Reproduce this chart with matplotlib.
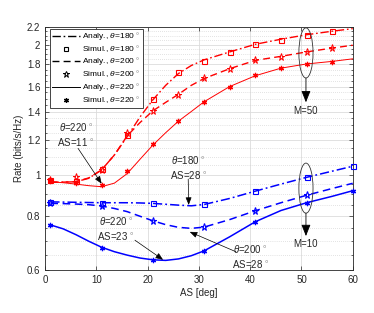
import numpy as np
import matplotlib
matplotlib.use("Agg")
import matplotlib.pyplot as plt
from matplotlib.lines import Line2D
from matplotlib.patches import Ellipse
from matplotlib.ticker import FixedLocator, NullFormatter

plt.rcParams['font.family'] = ['Liberation Sans', 'DejaVu Sans']
plt.rcParams['mathtext.fontset'] = 'custom'
plt.rcParams['mathtext.rm'] = 'Liberation Sans'
plt.rcParams['mathtext.it'] = 'Liberation Sans:italic'

# ---------------- data ----------------
as_ana = [1, 3.5, 6, 8.5, 11, 13.5, 16, 18.5, 21, 23.5, 26, 28.5, 31, 36, 41, 46, 51, 56, 60]
# M = 50 analytical
r180_ana = [0.960, 0.960, 0.962, 0.980, 1.025, 1.11, 1.225, 1.36, 1.49, 1.61, 1.715, 1.79, 1.845, 1.925, 2.005, 2.06, 2.11, 2.15, 2.18]
r200_ana = [0.960, 0.960, 0.963, 0.982, 1.025, 1.11, 1.23, 1.32, 1.405, 1.47, 1.535, 1.61, 1.67, 1.76, 1.84, 1.88, 1.925, 1.965, 1.995]
r220_ana = [0.962, 0.957, 0.950, 0.942, 0.937, 0.955, 1.005, 1.085, 1.17, 1.25, 1.33, 1.40, 1.475, 1.60, 1.695, 1.765, 1.805, 1.83, 1.855]
# M = 10 analytical
b180_ana = [0.864, 0.863, 0.862, 0.861, 0.860, 0.860, 0.860, 0.859, 0.857, 0.853, 0.849, 0.846, 0.852, 0.880, 0.915, 0.950, 0.985, 1.018, 1.045]
b200_ana = [0.857, 0.856, 0.854, 0.851, 0.845, 0.834, 0.820, 0.800, 0.781, 0.765, 0.754, 0.750, 0.755, 0.786, 0.824, 0.860, 0.895, 0.928, 0.954]
b220_ana = [0.764, 0.748, 0.725, 0.700, 0.678, 0.662, 0.650, 0.640, 0.634, 0.632, 0.637, 0.648, 0.665, 0.717, 0.777, 0.825, 0.860, 0.890, 0.917]

# M = 50 simulation
as_sim_r = [1, 6, 11, 16, 21, 26, 31, 36, 41, 46, 51, 56]
r180_sim = [0.970, 0.967, 1.029, 1.235, 1.50, 1.727, 1.838, 1.922, 2.006, 2.052, 2.11, 2.15]
r200_sim = [0.972, 0.989, 1.025, 1.246, 1.406, 1.532, 1.672, 1.758, 1.844, 1.874, 1.922, 1.964]
r220_sim = [0.966, 0.955, 0.944, 1.019, 1.177, 1.333, 1.476, 1.600, 1.699, 1.770, 1.806, 1.828]
# M = 10 simulation
as_sim_b = [1, 11, 21, 31, 41, 51, 60]
b180_sim = [0.865, 0.860, 0.860, 0.855, 0.915, 0.985, 1.048]
as_sim_b200 = [1, 11, 21, 31, 41, 51]
b200_sim = [0.857, 0.845, 0.781, 0.757, 0.824, 0.896]
b220_sim = [0.764, 0.677, 0.634, 0.665, 0.777, 0.860, 0.917]

yticks = [0.6, 0.8, 1, 1.2, 1.4, 1.6, 1.8, 2, 2.2]
ytick_labels = ['0.6', '0.8', '1', '1.2', '1.4', '1.6', '1.8', '2', '2.2']
xticks = [0, 10, 20, 30, 40, 50, 60]

# ---------------- figure ----------------
fig = plt.figure(figsize=(3.74, 3.13), dpi=100)
ax = fig.add_axes([0.121, 0.137, 0.822, 0.777])
ax.set_yscale('log')

RED = '#ff0000'
BLUE = '#0000ff'
asterisk = (6, 2, 0)
DASHDOT = (0, (6, 2, 1.2, 2))
DASHED = (0, (5, 3))

# analytical lines
ax.plot(as_ana, r180_ana, color=RED, ls=DASHDOT, lw=1.0)
ax.plot(as_ana, r200_ana, color=RED, ls=DASHED, lw=1.0)
ax.plot(as_ana, r220_ana, color=RED, ls='-', lw=0.7)
ax.plot(as_ana, b180_ana, color=BLUE, ls=DASHDOT, lw=1.1)
ax.plot(as_ana, b200_ana, color=BLUE, ls=DASHED, lw=1.1)
ax.plot(as_ana, b220_ana, color=BLUE, ls='-', lw=1.1)

# simulation markers
mk = dict(ls='none', clip_on=False, zorder=4)
ax.plot(as_sim_r, r180_sim, marker='s', ms=3.6, mfc='none', mec=RED, mew=0.8, **mk)
ax.plot(as_sim_r, r200_sim, marker='*', ms=5.2, mfc='none', mec=RED, mew=0.7, **mk)
ax.plot(as_sim_r, r220_sim, marker=asterisk, ms=3.8, mec=RED, mew=0.9, **mk)
ax.plot(as_sim_b, b180_sim, marker='s', ms=3.6, mfc='none', mec=BLUE, mew=0.8, **mk)
ax.plot(as_sim_b200, b200_sim, marker='*', ms=5.2, mfc='none', mec=BLUE, mew=0.8, **mk)
ax.plot(as_sim_b, b220_sim, marker=asterisk, ms=3.8, mec=BLUE, mew=0.9, **mk)

# axes styling
ax.set_xlim(0, 60)
ax.set_ylim(0.6, 2.2)
ax.set_xticks(xticks)
ax.yaxis.set_major_locator(FixedLocator(yticks))
ax.set_yticklabels(ytick_labels)
ax.yaxis.set_minor_locator(FixedLocator(np.arange(0.65, 2.2, 0.05)))
ax.yaxis.set_minor_formatter(NullFormatter())
ax.tick_params(which='both', direction='in', top=True, right=True, labelsize=7,
               colors='#262626', width=0.5)
ax.tick_params(which='major', length=3)
ax.tick_params(which='minor', length=1.5)
ax.grid(True, which='major', color='#dcdcdc', lw=0.6, ls='-')
ax.grid(True, which='minor', axis='y', color='#c8c8c8', lw=0.5, ls=(0, (1, 2)))
ax.set_axisbelow(True)
for s in ax.spines.values():
    s.set_color('#262626')
    s.set_linewidth(0.6)

ax.set_xlabel('AS [deg]', fontsize=7, color='#262626', labelpad=2)
ax.set_ylabel('Rate (bits/s/Hz)', fontsize=7, color='#262626', labelpad=2)

# legend
h = [
    Line2D([], [], color='k', ls=DASHDOT, lw=1.0),
    Line2D([], [], color='k', ls='none', marker='s', ms=3.4, mfc='none', mew=0.8),
    Line2D([], [], color='k', ls=DASHED, lw=1.0),
    Line2D([], [], color='k', ls='none', marker='*', ms=5, mfc='none', mew=0.7),
    Line2D([], [], color='k', ls='-', lw=0.7),
    Line2D([], [], color='k', ls='none', marker=asterisk, ms=3.6, mew=0.9),
]
labels = [r'Analy., $\theta$=180$\,^\circ$', r'Simul., $\theta$=180$\,^\circ$',
          r'Analy., $\theta$=200$\,^\circ$', r'Simul., $\theta$=200$\,^\circ$',
          r'Analy., $\theta$=220$\,^\circ$', r'Simul., $\theta$=220$\,^\circ$']
leg = ax.legend(h, labels, loc='upper left', bbox_to_anchor=(0.015, 0.993),
                fontsize=6, frameon=True, fancybox=False, edgecolor='#262626',
                framealpha=1, borderaxespad=0, handlelength=3.3, handletextpad=0.25,
                labelspacing=0.2, borderpad=0.3)
leg.get_frame().set_linewidth(0.6)

# annotations
afs = 7
arrow = dict(arrowstyle='-|>,head_length=0.45,head_width=0.18', color='k', lw=0.5,
             shrinkA=0, shrinkB=0)
ax.text(6.0, 1.24, '$\\theta$=220$\\,^\\circ$\nAS=11$\\,^\\circ$', fontsize=afs, ha='center',
        va='center', linespacing=1.3, color='#262626')
ax.annotate('', xy=(11, 0.952), xytext=(6.4, 1.15), arrowprops=arrow)

ax.text(27.9, 1.04, '$\\theta$=180$\\,^\\circ$\nAS=28$\\,^\\circ$', fontsize=afs, ha='center',
        va='center', linespacing=1.3, color='#262626')
ax.annotate('', xy=(28.0, 0.850), xytext=(27.9, 0.976), arrowprops=arrow)

ax.text(13.8, 0.751, '$\\theta$=220$\\,^\\circ$\nAS=23$\\,^\\circ$', fontsize=afs, ha='center',
        va='center', linespacing=1.3, color='#262626')
ax.annotate('', xy=(23.0, 0.634), xytext=(17.5, 0.704), arrowprops=arrow)

ax.text(40.0, 0.645, '$\\theta$=200$\\,^\\circ$\nAS=28$\\,^\\circ$', fontsize=afs, ha='center',
        va='center', linespacing=1.3, color='#262626')
ax.annotate('', xy=(28.2, 0.736), xytext=(37.2, 0.662), arrowprops=arrow)

# ellipses with M labels (axes fraction)
for cy, y0, y1, ty, txt in [(0.893, 0.790, 0.690, 0.655, 'M=50'),
                            (0.337, 0.235, 0.140, 0.107, 'M=10')]:
    ax.add_patch(Ellipse((0.848, cy), 0.046, 0.206, transform=ax.transAxes,
                         fill=False, ec='#333333', lw=0.6, zorder=5))
    ax.annotate('', xy=(0.848, y1), xytext=(0.848, y0), xycoords='axes fraction',
                textcoords='axes fraction',
                arrowprops=dict(arrowstyle='-|>,head_length=0.7,head_width=0.28',
                                color='k', lw=0.6, shrinkA=0, shrinkB=0))
    ax.text(0.845, ty, txt, transform=ax.transAxes, fontsize=afs, ha='center',
            va='center', color='#262626')

fig.savefig('out.png', dpi=100)
